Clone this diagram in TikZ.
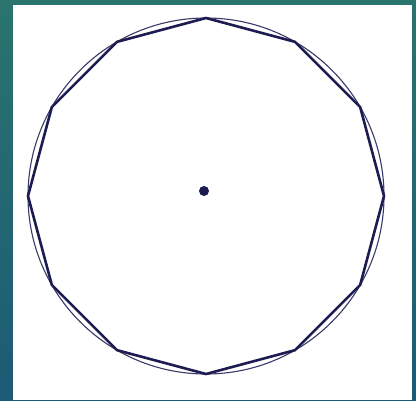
\documentclass[tikz,border=0pt]{standalone}
\usetikzlibrary{calc}
\definecolor{tealtop}{HTML}{2A746E}
\definecolor{tealbot}{HTML}{1D5A76}
\definecolor{polyc}{HTML}{1C1C52}
\definecolor{circc}{HTML}{3A3A6A}
\begin{document}
\begin{tikzpicture}[x=1pt,y=-1pt,
  polyline/.style={draw=polyc,line width=2.6pt,line join=round},
  circline/.style={draw=circc,line width=1.1pt}]
\useasboundingbox (0,0) rectangle (416,400);
\shade[top color=tealtop,bottom color=tealbot] (0,0) rectangle (416,400);
\fill[white] (13,5) rectangle (412,400);
\coordinate (O) at (206,196);
\node[circle,fill=polyc,inner sep=0pt,minimum size=10pt] (dot) at (204,191) {};
\draw[circline] (O) circle[radius=178];
\foreach \i in {0,...,11}{
  \coordinate (v\i) at ($(O)+({90+30*\i}:178)$);
}
\draw[polyline] (v0)--(v1)--(v2)--(v3)--(v4)--(v5)--(v6)--(v7)--(v8)--(v9)--(v10)--(v11)--cycle;
\end{tikzpicture}
\end{document}
